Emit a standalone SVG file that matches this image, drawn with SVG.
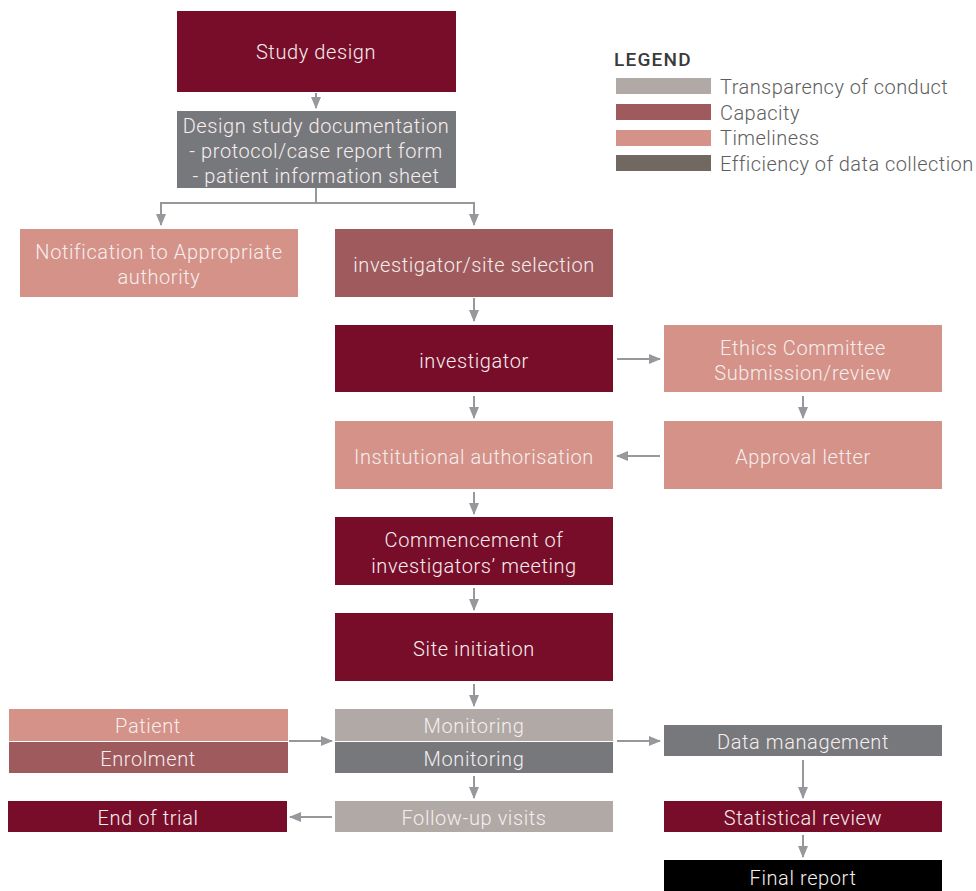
<svg xmlns="http://www.w3.org/2000/svg" width="976" height="891" viewBox="0 0 976 891">
<defs>
<style>
.t{font-family:Roboto,"Liberation Sans",sans-serif;font-weight:300;font-size:20px;fill:#f6eeee;text-anchor:middle;letter-spacing:0.6px}
.lg{font-family:Roboto,"Liberation Sans",sans-serif;font-weight:300;font-size:20px;fill:#5e5e5e;letter-spacing:0.45px}
.c{stroke:#97989b;stroke-width:2;fill:none}
.dr{fill:#780d2a}.gr{fill:#77787c}.lgr{fill:#b0a9a6}.pk{fill:#d49289}.md{fill:#9e5a5c}.bk{fill:#000}
</style>
<marker id="a" markerWidth="12" markerHeight="10" refX="11" refY="5" orient="auto" markerUnits="userSpaceOnUse">
<path d="M0,0 L12,5 L0,10 Z" fill="#97989b"/>
</marker>
</defs>
<rect width="976" height="891" fill="#fff"/>
<g id="legend">
<text x="614" y="66" font-family="Roboto,'Liberation Sans',sans-serif" font-weight="500" font-size="19" fill="#3a3a3a" letter-spacing="1.2">LEGEND</text>
<rect x="616" y="78" width="95" height="16" class="lgr"/><text x="720" y="94" class="lg">Transparency of conduct</text>
<rect x="616" y="104" width="95" height="16" class="md"/><text x="720" y="120" class="lg">Capacity</text>
<rect x="616" y="130" width="95" height="16" class="pk"/><text x="720" y="145" class="lg">Timeliness</text>
<rect x="616" y="155" width="95" height="16" fill="#716862"/><text x="720" y="171" class="lg">Efficiency of data collection</text>
</g>
<g id="connectors">
<line x1="316" y1="93" x2="316" y2="108" class="c" marker-end="url(#a)"/>
<polyline points="316,188 316,203 161,203 161,225" class="c" marker-end="url(#a)"/>
<polyline points="316,203 474,203 474,225" class="c" marker-end="url(#a)"/>
<line x1="474" y1="298" x2="474" y2="321" class="c" marker-end="url(#a)"/>
<line x1="617" y1="359" x2="660" y2="359" class="c" marker-end="url(#a)"/>
<line x1="474" y1="396" x2="474" y2="418" class="c" marker-end="url(#a)"/>
<line x1="803" y1="396" x2="803" y2="418" class="c" marker-end="url(#a)"/>
<line x1="660" y1="456" x2="617" y2="456" class="c" marker-end="url(#a)"/>
<line x1="474" y1="492" x2="474" y2="514" class="c" marker-end="url(#a)"/>
<line x1="474" y1="588" x2="474" y2="610" class="c" marker-end="url(#a)"/>
<line x1="474" y1="684" x2="474" y2="706" class="c" marker-end="url(#a)"/>
<line x1="289" y1="741" x2="332" y2="741" class="c" marker-end="url(#a)"/>
<line x1="617" y1="741" x2="660" y2="741" class="c" marker-end="url(#a)"/>
<line x1="474" y1="776" x2="474" y2="798" class="c" marker-end="url(#a)"/>
<line x1="803" y1="760" x2="803" y2="798" class="c" marker-end="url(#a)"/>
<line x1="332" y1="817" x2="290" y2="817" class="c" marker-end="url(#a)"/>
<line x1="803" y1="835" x2="803" y2="857" class="c" marker-end="url(#a)"/>
</g>
<g id="study-design"><rect x="177" y="11" width="279" height="81" class="dr"/><text x="316" y="59" class="t">Study design</text></g>
<g id="design-doc"><rect x="177" y="111" width="279" height="77" class="gr"/>
<text x="316" y="133" class="t">Design study documentation</text>
<text x="316" y="158" class="t">- protocol/case report form</text>
<text x="316" y="183" class="t">- patient information sheet</text></g>
<g id="notification"><rect x="20" y="229" width="278" height="68" class="pk"/>
<text x="159" y="259" class="t">Notification to Appropriate</text>
<text x="159" y="284" class="t">authority</text></g>
<g id="site-selection"><rect x="335" y="229" width="278" height="68" class="md"/><text x="474" y="272" class="t">investigator/site selection</text></g>
<g id="investigator"><rect x="335" y="325" width="278" height="67" class="dr"/><text x="474" y="368" class="t">investigator</text></g>
<g id="ethics"><rect x="664" y="325" width="278" height="67" class="pk"/>
<text x="803" y="355" class="t">Ethics Committee</text>
<text x="803" y="380" class="t">Submission/review</text></g>
<g id="institutional"><rect x="335" y="421" width="278" height="68" class="pk"/><text x="474" y="464" class="t">Institutional authorisation</text></g>
<g id="approval"><rect x="664" y="421" width="278" height="68" class="pk"/><text x="803" y="464" class="t">Approval letter</text></g>
<g id="commencement"><rect x="335" y="517" width="278" height="68" class="dr"/>
<text x="474" y="547" class="t">Commencement of</text>
<text x="474" y="573" class="t">investigators’ meeting</text></g>
<g id="site-initiation"><rect x="335" y="613" width="278" height="68" class="dr"/><text x="474" y="656" class="t">Site initiation</text></g>
<g id="patient-enrolment"><rect x="9" y="709" width="279" height="32" class="pk"/><rect x="9" y="742" width="279" height="31" class="md"/>
<text x="148" y="733" class="t">Patient</text><text x="148" y="766" class="t">Enrolment</text></g>
<g id="monitoring"><rect x="335" y="709" width="278" height="32" class="lgr"/><rect x="335" y="742" width="278" height="31" class="gr"/>
<text x="474" y="733" class="t">Monitoring</text><text x="474" y="766" class="t">Monitoring</text></g>
<g id="data-management"><rect x="664" y="725" width="278" height="31" class="gr"/><text x="803" y="749" class="t">Data management</text></g>
<g id="end-of-trial"><rect x="8" y="801" width="279" height="31" class="dr"/><text x="148" y="825" class="t">End of trial</text></g>
<g id="follow-up"><rect x="335" y="801" width="278" height="31" class="lgr"/><text x="474" y="825" class="t">Follow-up visits</text></g>
<g id="statistical-review"><rect x="664" y="801" width="278" height="31" class="dr"/><text x="803" y="825" class="t">Statistical review</text></g>
<g id="final-report"><rect x="664" y="860" width="278" height="31" class="bk"/><text x="803" y="885" class="t">Final report</text></g>
</svg>
